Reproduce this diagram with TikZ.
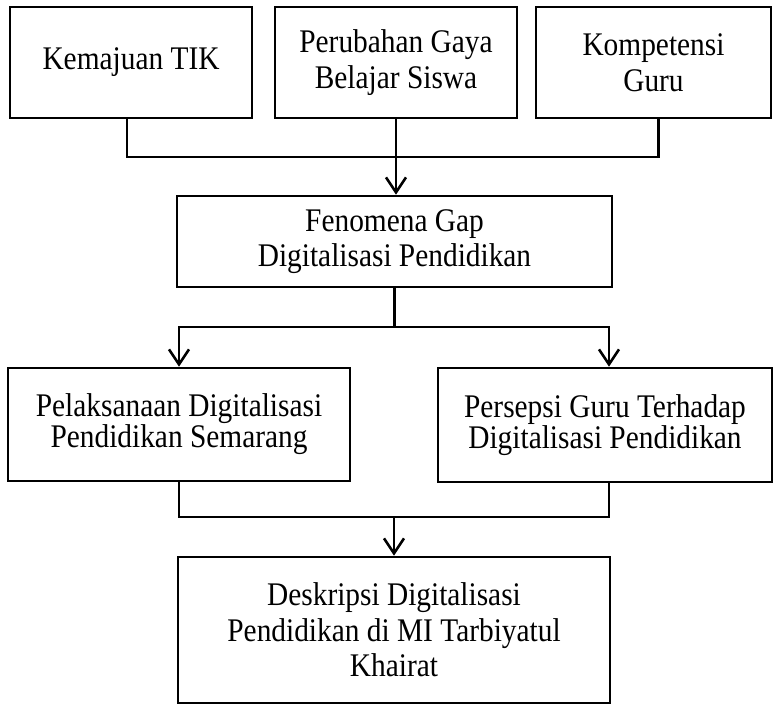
\documentclass[tikz,border=0pt]{standalone}
\usepackage{fontspec}
\setmainfont{Liberation Serif}[FakeStretch=0.89]
\usetikzlibrary{arrows.meta}
\tikzset{
  box/.style={draw=black, line width=2.6pt, rectangle, align=center, inner sep=0pt,
    font=\fontsize{33}{35.5}\selectfont},
  tightbox/.style={box, font=\fontsize{33}{29.5}\selectfont},
  conn/.style={line width=2.6pt, draw=black},
  arr/.style={conn, -{Straight Barb[length=15pt,width=20pt]}}
}
\begin{document}
\begin{tikzpicture}[x=1pt,y=-1pt]
\useasboundingbox (0,0) rectangle (774,706);
\node[box, minimum width=242pt, minimum height=111pt] (b1) at (131,62.5) {Kemajuan TIK};
\node[box, minimum width=242pt, minimum height=111pt] (b2) at (396,62.5) {Perubahan Gaya\\Belajar Siswa};
\node[box, minimum width=235pt, minimum height=111pt] (b3) at (653.5,62.5) {Kompetensi\\Guru};
\node[box, minimum width=435pt, minimum height=91pt] (fen) at (394.5,241.5) {Fenomena Gap\\Digitalisasi Pendidikan};
\node[tightbox, minimum width=342pt, minimum height=113pt] (pel) at (179,424.5) {Pelaksanaan Digitalisasi\\Pendidikan Semarang};
\node[tightbox, minimum width=334pt, minimum height=114pt] (per) at (605,425) {Persepsi Guru Terhadap\\Digitalisasi Pendidikan};
\node[box, minimum width=432pt, minimum height=146pt] (desk) at (394,630) {Deskripsi Digitalisasi\\Pendidikan di MI Tarbiyatul\\Khairat};
% top connector
\coordinate (j1a) at ([xshift=-4pt]b1.south |- 0,157);
\coordinate (j1b) at ([xshift=5pt]b3.south |- 0,157);
\draw[conn] ([xshift=-4pt]b1.south) -- (j1a) -- (j1b) -- ([xshift=5pt]b3.south);
\draw[arr] (b2.south) -- (b2.south |- fen.north);
% middle connector
\coordinate (j2) at (fen.south |- 0,327);
\draw[conn] (fen.south) -- (j2);
\draw[arr] (j2) -| (pel.north);
\draw[arr] (j2) -| ([xshift=4pt]per.north);
% bottom connector
\coordinate (j3) at (pel.south |- 0,517);
\draw[conn] (pel.south) -- (j3) -| ([xshift=4pt]per.south);
\draw[arr] (desk.north |- j3) -- (desk.north);
\end{tikzpicture}
\end{document}
